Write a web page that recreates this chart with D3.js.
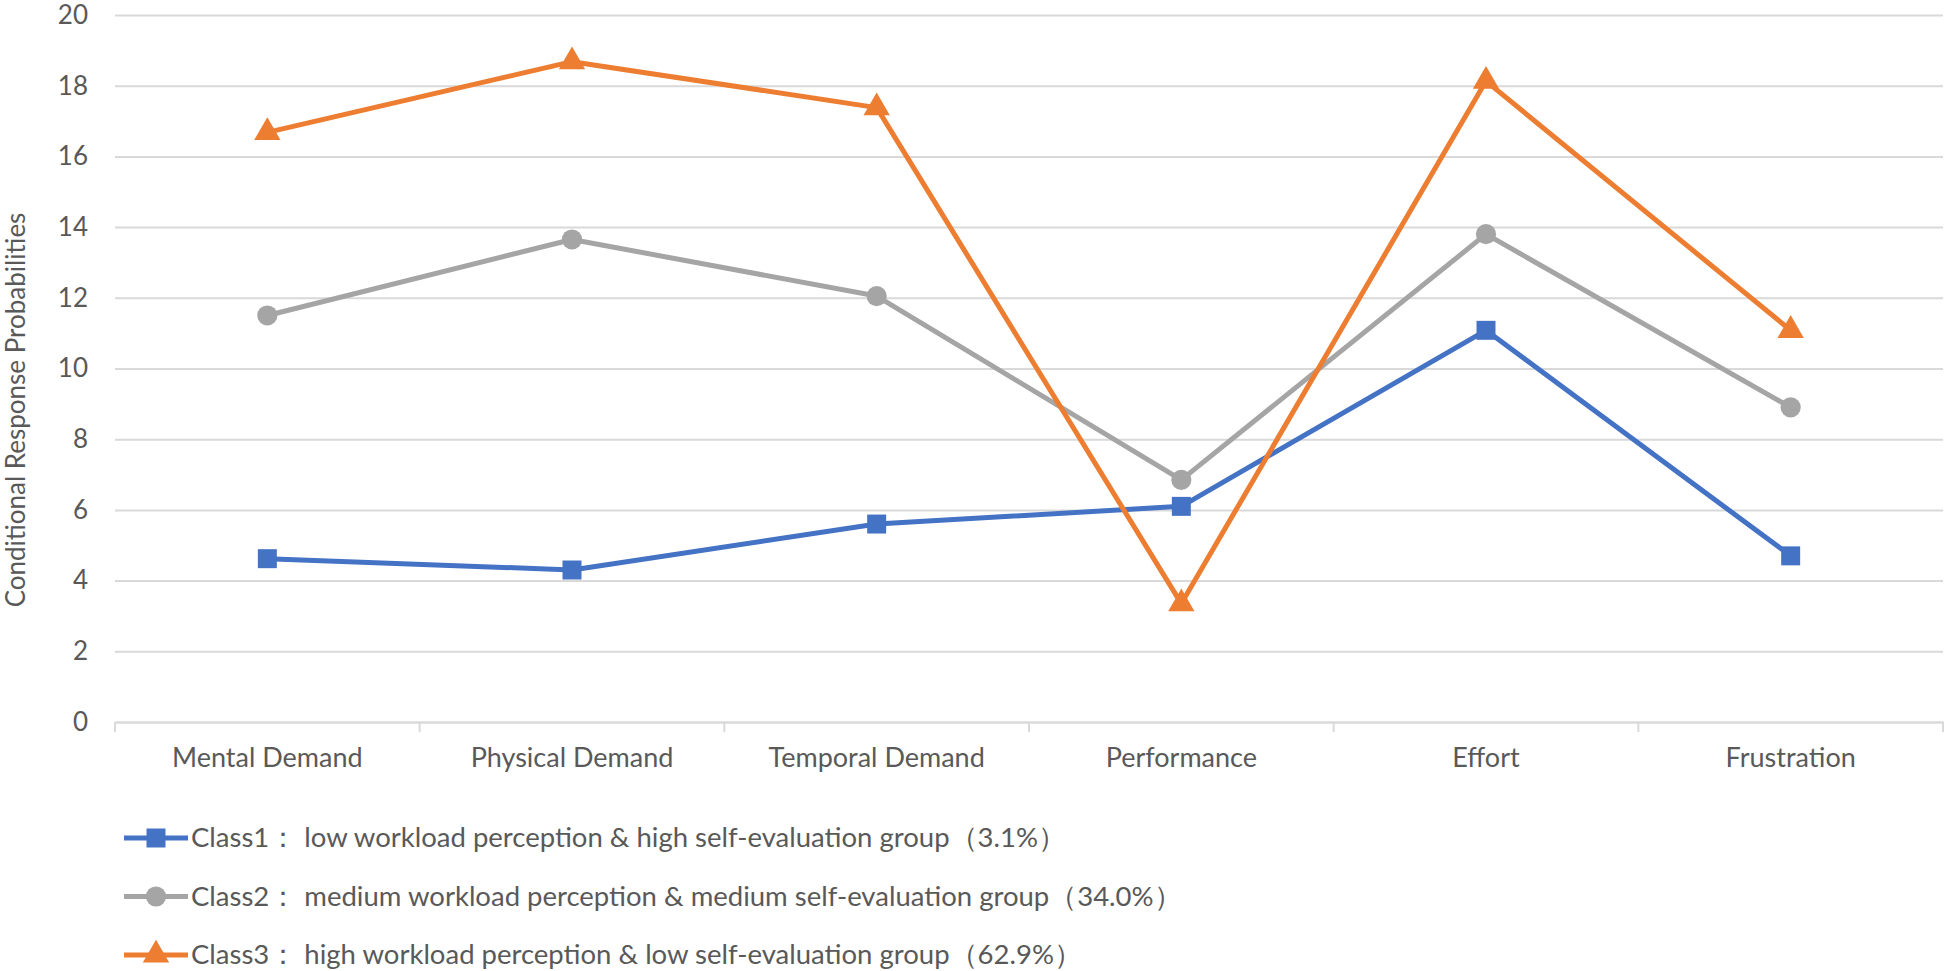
<!DOCTYPE html>
<html>
<head>
<meta charset="utf-8">
<script src="https://cdn.jsdelivr.net/npm/d3@7"></script>
<style>
  body { margin: 0; background: #fff; }
  text { font-family: Lato, "Noto Sans", sans-serif; fill: #595959; }
</style>
</head>
<body>
<div id="chart-area"></div>
<script>
// Data
var categories = ["Mental Demand", "Physical Demand", "Temporal Demand", "Performance", "Effort", "Frustration"];
var class1Values = [4.62, 4.3, 5.6, 6.1, 11.08, 4.7];
var class2Values = [11.5, 13.65, 12.05, 6.85, 13.8, 8.9];
var class3Values = [16.68, 18.68, 17.38, 3.35, 18.13, 11.08];
var seriesNames = [
    "Class1： low workload perception & high self-evaluation group（3.1%）",
    "Class2： medium workload perception & medium self-evaluation group（34.0%）",
    "Class3： high workload perception & low self-evaluation group（62.9%）"
];
var yTicks = [0, 2, 4, 6, 8, 10, 12, 14, 16, 18, 20];

var margin = { left: 115, right: 3, top: 15, bottom: 249 },
    width = 1946 - margin.left - margin.right,
    height = 971 - margin.top - margin.bottom;

var svg = d3.select("#chart-area").append("svg")
    .attr("width", width + margin.left + margin.right)
    .attr("height", height + margin.top + margin.bottom);

var g = svg.append("g")
    .attr("transform", "translate(" + margin.left + "," + margin.top + ")");

// Scales
var x = d3.scaleBand().domain(categories).range([0, width]);
var y = d3.scaleLinear().domain([0, 20]).range([height, 0]);

var colours = ["#4472C4", "#A5A5A5", "#ED7D31"];
var symbols = [d3.symbolSquare, d3.symbolCircle, d3.symbolTriangle];
var symbolSizes = [360, 320, 300];

// Gridlines + y labels
var yAxis = g.append("g")
    .attr("class", "y axis")
    .call(d3.axisLeft(y).tickValues(yTicks).tickSize(-width).tickPadding(27));
yAxis.select(".domain").remove();
yAxis.selectAll(".tick line").attr("stroke", "#D9D9D9").attr("stroke-width", 2);
yAxis.selectAll(".tick text").attr("font-size", "26px").style("fill", "#595959");

// X axis
var xAxis = g.append("g")
    .attr("class", "x axis")
    .attr("transform", "translate(0," + height + ")")
    .call(d3.axisBottom(x).tickSize(0).tickPadding(26));
xAxis.select(".domain").attr("stroke", "#D9D9D9").attr("stroke-width", 2);
xAxis.selectAll(".tick text").attr("font-size", "27px").style("fill", "#595959");

// tick marks between categories
var boundaries = categories.map(function(c) { return x(c); }).concat([width]);
xAxis.selectAll(".sep")
    .data(boundaries)
    .enter().append("line")
    .attr("class", "sep")
    .attr("x1", function(d) { return d; })
    .attr("x2", function(d) { return d; })
    .attr("y1", 0)
    .attr("y2", 10)
    .attr("stroke", "#D9D9D9")
    .attr("stroke-width", 2);

var allSeries = [class1Values, class2Values, class3Values];

var line = d3.line()
    .x(function(d, i) { return x(categories[i]) + x.bandwidth() / 2; })
    .y(function(d) { return y(d); });

allSeries.forEach(function(values, s) {
    g.append("path")
        .attr("fill", "none")
        .attr("stroke", colours[s])
        .attr("stroke-width", 5)
        .attr("stroke-linejoin", "round")
        .attr("d", line(values));

    g.selectAll(".m" + s)
        .data(values)
        .enter().append("path")
        .attr("class", "m" + s)
        .attr("fill", colours[s])
        .attr("transform", function(d, i) {
            return "translate(" + (x(categories[i]) + x.bandwidth() / 2) + "," + y(d) + ")";
        })
        .attr("d", d3.symbol().type(symbols[s]).size(symbolSizes[s]));
});

// Y axis label
g.append("text")
    .attr("transform", "rotate(-90)")
    .attr("x", -(410 - margin.top))
    .attr("y", -margin.left + 25)
    .attr("text-anchor", "middle")
    .attr("font-size", "26px")
    .text("Conditional Response Probabilities");

// Legend
var legend = svg.append("g")
    .attr("class", "legend")
    .attr("transform", "translate(124, 838)");

seriesNames.forEach(function(name, i) {
    var row = legend.append("g")
        .attr("transform", "translate(0," + (i * 58.5) + ")");

    row.append("line")
        .attr("x1", 0).attr("x2", 64)
        .attr("y1", 0).attr("y2", 0)
        .attr("stroke", colours[i])
        .attr("stroke-width", 5);

    row.append("path")
        .attr("transform", "translate(32,0)")
        .attr("fill", colours[i])
        .attr("d", d3.symbol().type(symbols[i]).size(symbolSizes[i]));

    row.append("text")
        .attr("x", 67)
        .attr("y", 9)
        .attr("font-size", "27.5px")
        .text(name);
});
</script>
</body>
</html>
